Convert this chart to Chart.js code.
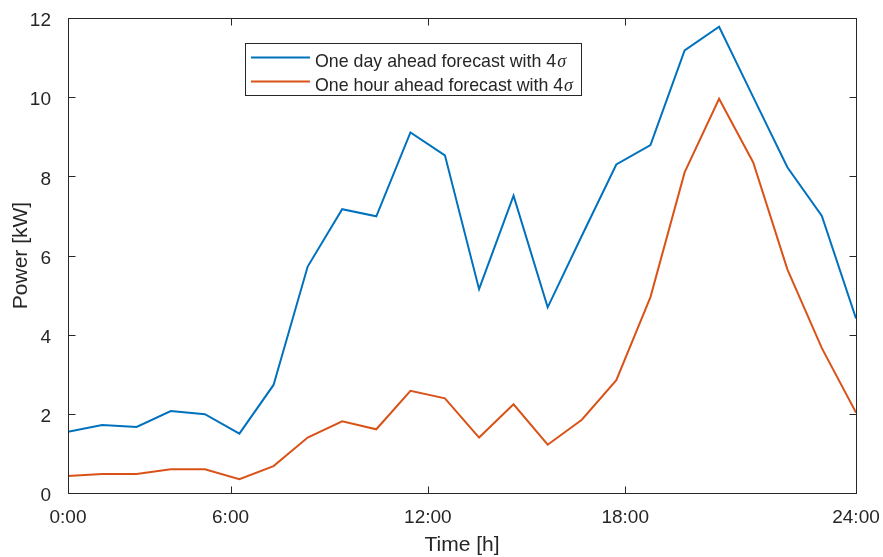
<!DOCTYPE html>
<html>
<head>
<meta charset="utf-8">
<script src="https://cdn.jsdelivr.net/npm/chart.js@4.4.1/dist/chart.umd.min.js"></script>
<style>
  html, body { margin: 0; padding: 0; background: #fff; }
  #wrap { width: 883px; height: 557px; }
</style>
</head>
<body>
<div id="wrap"><canvas id="powerChart" width="883" height="557"></canvas></div>
<script>
// Datos (24 puntos entre 0:00 y 24:00)
const hours = [0, 1.04, 2.09, 3.13, 4.17, 5.22, 6.26, 7.30, 8.35, 9.39, 10.43, 11.48,
               12.52, 13.57, 14.61, 15.65, 16.70, 17.74, 18.78, 19.83, 20.87, 21.91, 22.96, 24];
const dayAhead = [1.55, 1.72, 1.67, 2.07, 1.99, 1.50, 2.73, 5.72, 7.17, 6.99, 9.11, 8.53,
                  5.15, 7.51, 4.69, 6.50, 8.30, 8.79, 11.18, 11.78, 10.00, 8.23, 7.00, 4.41];
const hourAhead = [0.43, 0.48, 0.48, 0.60, 0.60, 0.35, 0.68, 1.40, 1.81, 1.61, 2.58, 2.39,
                   1.40, 2.24, 1.22, 1.85, 2.85, 4.95, 8.10, 9.96, 8.35, 5.65, 3.66, 2.03];
// Las marcas del eje x no estan espaciadas igual en la figura original
const xTicks = [0, 4.95, 10.96, 16.97, 24];
const xTickLabels = ['0:00', '6:00', '12:00', '18:00', '24:00'];
const yTicks = [0, 2, 4, 6, 8, 10, 12];
const seriesNames = ['One day ahead forecast with 4', 'One hour ahead forecast with 4'];
const seriesColors = ['#0072BD', '#D95319'];

const FONT = "'Liberation Sans', Arial, Helvetica, sans-serif";
const AXIS_COLOR = '#262626';

function toPoints(values) {
    return values.map((v, i) => ({ x: hours[i], y: v }));
}

// Marco con marcas hacia dentro en los cuatro lados (estilo MATLAB)
const framePlugin = {
    id: 'frame',
    afterDatasetsDraw(chart) {
        const { ctx, chartArea: a, scales } = chart;
        const L = Math.round(a.left) + 0.5, R = Math.round(a.right) + 0.5;
        const T = Math.round(a.top) + 0.5, B = Math.round(a.bottom) + 0.5;
        const tl = 7;
        ctx.save();
        ctx.strokeStyle = AXIS_COLOR;
        ctx.lineWidth = 1;
        ctx.strokeRect(L, T, R - L, B - T);
        ctx.beginPath();
        xTicks.forEach(t => {
            const x = Math.round(scales.x.getPixelForValue(t)) + 0.5;
            ctx.moveTo(x, B); ctx.lineTo(x, B - tl);
            ctx.moveTo(x, T); ctx.lineTo(x, T + tl);
        });
        yTicks.forEach(t => {
            const y = Math.round(scales.y.getPixelForValue(t)) + 0.5;
            ctx.moveTo(L, y); ctx.lineTo(L + tl, y);
            ctx.moveTo(R, y); ctx.lineTo(R - tl, y);
        });
        ctx.stroke();
        ctx.restore();
    }
};

// Leyenda dentro del area del grafico, con sigma en cursiva
const legendPlugin = {
    id: 'boxLegend',
    afterDatasetsDraw(chart) {
        const ctx = chart.ctx;
        const box = { x: 245.5, y: 43.5, w: 336, h: 52 };
        ctx.save();
        ctx.fillStyle = '#fff';
        ctx.fillRect(box.x, box.y, box.w, box.h);
        ctx.strokeStyle = AXIS_COLOR;
        ctx.lineWidth = 1;
        ctx.strokeRect(box.x, box.y, box.w, box.h);
        const rows = [57.5, 81.5];
        chart.data.datasets.forEach((ds, i) => {
            ctx.strokeStyle = ds.borderColor;
            ctx.lineWidth = 2;
            ctx.beginPath();
            ctx.moveTo(251, rows[i]);
            ctx.lineTo(310, rows[i]);
            ctx.stroke();
            ctx.fillStyle = AXIS_COLOR;
            ctx.textBaseline = 'alphabetic';
            ctx.font = '17.8px ' + FONT;
            ctx.fillText(seriesNames[i], 315, rows[i] + 9);
            const w = ctx.measureText(seriesNames[i]).width;
            ctx.font = "italic 18px 'Liberation Serif', 'DejaVu Serif', serif";
            ctx.fillText('\u03c3', 315 + w + 1, rows[i] + 9);
        });
        ctx.restore();
    }
};

const ctx = document.getElementById('powerChart').getContext('2d');
const powerChart = new Chart(ctx, {
    type: 'line',
    data: {
        datasets: [{
            label: seriesNames[0] + '\u03c3',
            data: toPoints(dayAhead),
            borderColor: seriesColors[0],
            borderWidth: 2,
            pointRadius: 0,
            tension: 0
        }, {
            label: seriesNames[1] + '\u03c3',
            data: toPoints(hourAhead),
            borderColor: seriesColors[1],
            borderWidth: 2,
            pointRadius: 0,
            tension: 0
        }]
    },
    options: {
        responsive: false,
        animation: false,
        layout: { padding: { left: 0, right: 27, top: 18, bottom: 0 } },
        plugins: {
            legend: { display: false },
            tooltip: { enabled: false }
        },
        scales: {
            x: {
                type: 'linear',
                min: 0,
                max: 24,
                afterBuildTicks: s => { s.ticks = xTicks.map(v => ({ value: v })); },
                afterFit: s => { s.height = 64; s.paddingLeft = 0; s.paddingRight = 0; },
                grid: { display: false },
                border: { display: false },
                ticks: {
                    maxRotation: 0,
                    autoSkip: false,
                    padding: 5,
                    color: AXIS_COLOR,
                    font: { family: FONT, size: 19 },
                    callback: (v, i) => xTickLabels[i]
                },
                title: {
                    display: true,
                    text: 'Time [h]',
                    color: AXIS_COLOR,
                    font: { family: FONT, size: 21 },
                    padding: { top: 0, bottom: -1 }
                }
            },
            y: {
                min: 0,
                max: 12,
                afterBuildTicks: s => { s.ticks = yTicks.map(v => ({ value: v })); },
                afterFit: s => { s.width = 68; s.paddingTop = 0; s.paddingBottom = 0; },
                grid: { display: false },
                border: { display: false },
                ticks: {
                    padding: 9,
                    labelOffset: 3,
                    color: AXIS_COLOR,
                    font: { family: FONT, size: 19 }
                },
                title: {
                    display: true,
                    text: 'Power [kW]',
                    color: AXIS_COLOR,
                    font: { family: FONT, size: 21 },
                    padding: { top: 9, bottom: 0 }
                }
            }
        }
    },
    plugins: [framePlugin, legendPlugin]
});
</script>
</body>
</html>
